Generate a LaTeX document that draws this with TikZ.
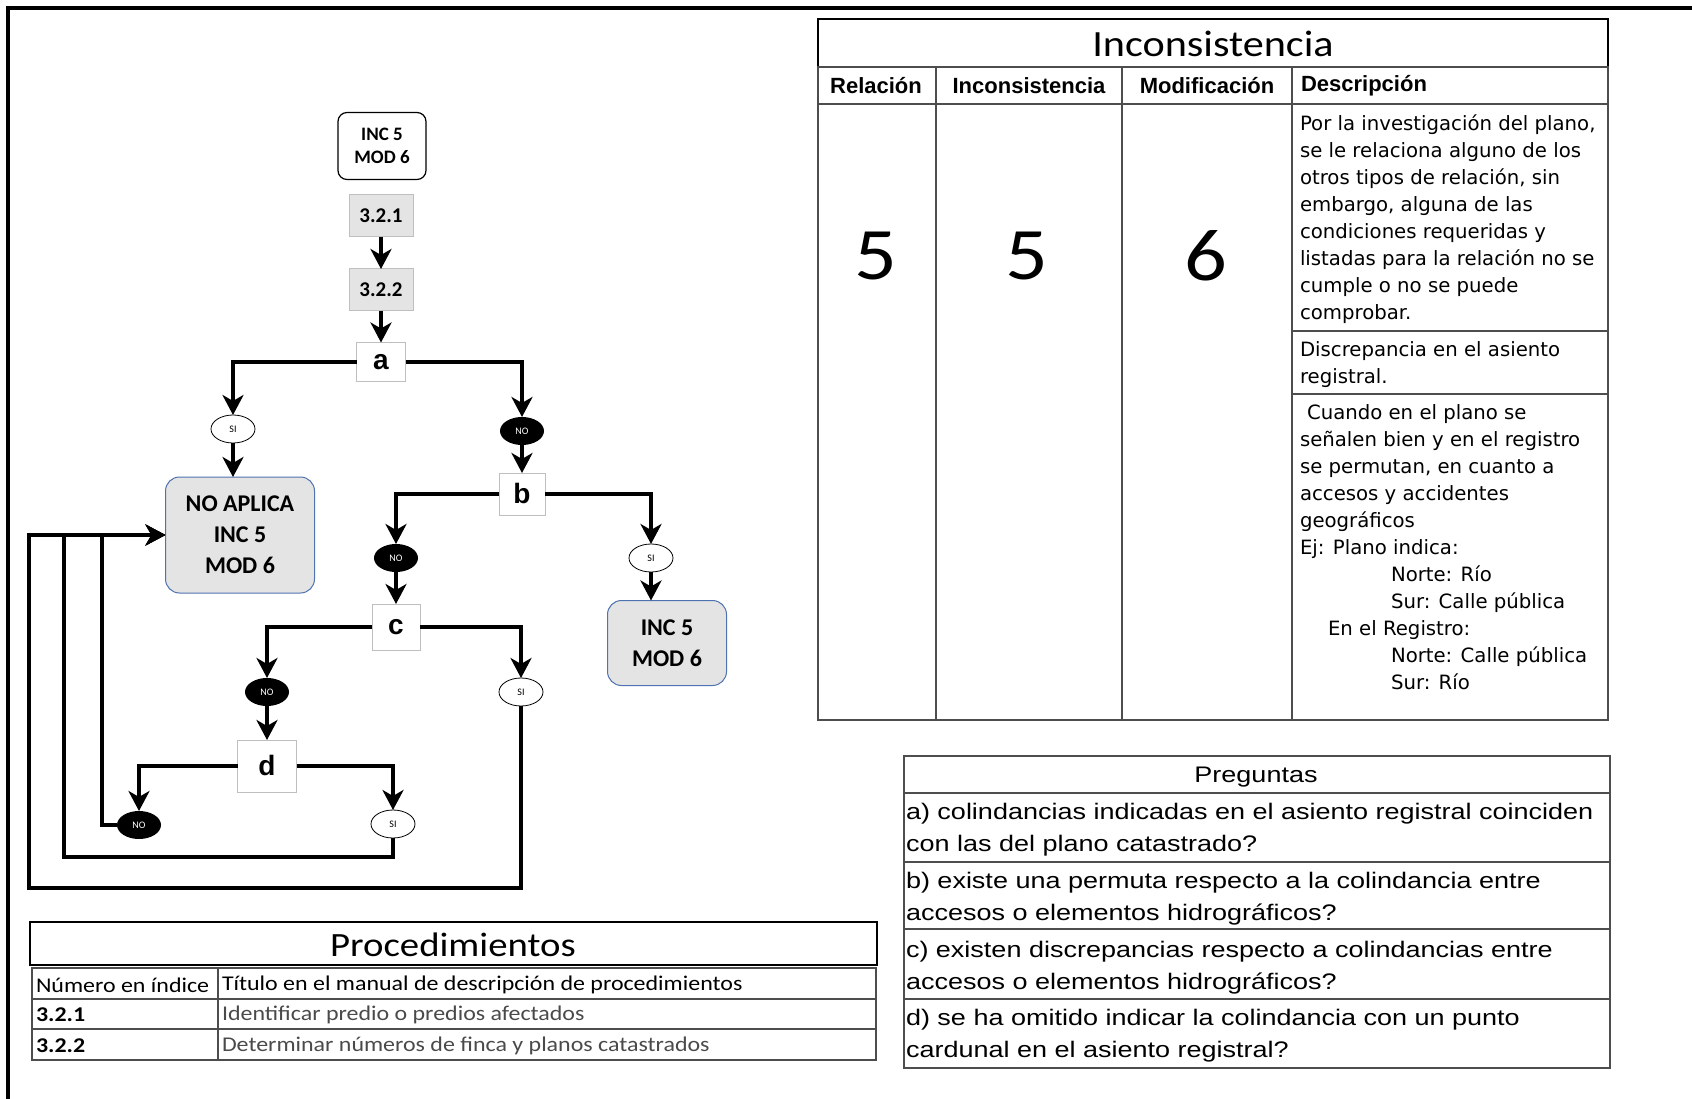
\documentclass[tikz,border=0pt]{standalone}
\usepackage{fontspec}
\setmainfont{Carlito}
\newfontfamily\calw[FakeStretch=1.14]{Carlito}
\newfontfamily\arialf{Liberation Sans}
\newfontfamily\arialw[FakeStretch=1.2]{Liberation Sans}
\newfontfamily\verd{DejaVu Sans}
\usetikzlibrary{positioning,calc,shapes.geometric,arrows.meta}
\definecolor{cajagris}{HTML}{E4E4E4}
\definecolor{bordegris}{HTML}{BFBFBF}
\definecolor{bordeazul}{HTML}{4F72B0}
\definecolor{lineatabla}{HTML}{4D4D4D}
\definecolor{textogris}{HTML}{4A4A4A}

\begin{document}
\begin{tikzpicture}[x=1pt, y=-1pt,
  every node/.style={inner sep=0pt, outer sep=0pt},
  flow/.style={line width=4pt, -{Stealth[length=20pt,width=21pt,inset=6pt]}},
  startbox/.style={draw, line width=1.2pt, rounded corners=9pt, fill=white, minimum width=88pt, minimum height=67pt, align=center, font=\bfseries\fontsize{19}{23}\selectfont},
  procbox/.style={draw=bordegris, line width=1pt, fill=cajagris, minimum width=64pt, minimum height=42pt, font=\bfseries\fontsize{21}{23}\selectfont},
  qbox/.style={draw=bordegris, line width=1pt, fill=white, text depth=1pt, font=\arialf\bfseries\fontsize{28}{30}\selectfont},
  endbox/.style={draw=bordeazul, line width=1pt, fill=cajagris, rounded corners=14pt, align=center, font=\bfseries\fontsize{24}{31}\selectfont},
  siovalo/.style={ellipse, draw, line width=0.8pt, fill=white, minimum width=44pt, minimum height=28pt, font=\fontsize{10}{11}\selectfont},
  noovalo/.style={ellipse, fill=black, text=white, minimum width=44pt, minimum height=28pt, font=\fontsize{10}{11}\selectfont},
  tabla/.style={draw=lineatabla, line width=1.5pt},
  encab/.style={font=\arialf\bfseries\fontsize{22}{24}\selectfont},
  descr/.style={anchor=north west, align=left, font=\verd\fontsize{19.7}{27}\selectfont},
  pregunta/.style={anchor=west, align=left, font=\arialw\fontsize{22.5}{32}\selectfont},
  proctexto/.style={anchor=west, font=\calw\fontsize{21}{23}\selectfont}]
\useasboundingbox (0,0) rectangle (1692,1099);
\draw[line width=4pt] (8,1099) -- (8,8) -- (1692,8);

\node[startbox] (inicio) at (382,146) {INC 5\\MOD 6};
\node[procbox] (p1) at (381,216) {3.2.1};
\node[procbox] (p2) at (381,290) {3.2.2};
\node[qbox, minimum width=49pt, minimum height=39pt] (a) at (381,362) {a};
\node[siovalo] (siA) at (233,429) {SI};
\node[endbox, minimum width=149pt, minimum height=116pt] (noaplica) at (240,535) {NO APLICA\\INC 5\\MOD 6};
\node[noovalo] (noA) at (522,431) {NO};
\node[qbox, minimum width=46pt, minimum height=42pt] (b) at (522,494) {b};
\node[siovalo] (siB) at (651,558) {SI};
\node[endbox, minimum width=119pt, minimum height=85pt] (inc) at (667,643) {INC 5\\MOD 6};
\node[noovalo] (noB) at (396,558) {NO};
\node[qbox, minimum width=48pt, minimum height=46pt] (c) at (396,627) {c};
\node[noovalo] (noC) at (267,692) {NO};
\node[siovalo] (siC) at (521,692) {SI};
\node[qbox, minimum width=59pt, minimum height=52pt] (d) at (267,766) {d};
\node[noovalo] (noD) at (139,825) {NO};
\node[siovalo] (siD) at (393,824) {SI};

\draw[flow] (p1) -- (p2);
\draw[flow] (p2) -- (a);
\draw[flow] (a.west) -| (siA.north);
\draw[flow] (siA.south) -- (siA.south |- noaplica.north);
\draw[flow] (a.east) -| (noA.north);
\draw[flow] (noA) -- (b);
\draw[flow] (b.east) -| (siB.north);
\draw[flow] (siB.south) -- (siB.south |- inc.north);
\draw[flow] (b.west) -| (noB.north);
\draw[flow] (noB) -- (c);
\draw[flow] (c.west) -| (noC.north);
\draw[flow] (noC) -- (d);
\draw[flow] (c.east) -| (siC.north);
\draw[flow] (d.west) -| (noD.north);
\draw[flow] (d.east) -| (siD.north);
\draw[flow] (noD.west) -- ++(-15,0) |- (noaplica.west);
\draw[flow] (siD.south) -- ++(0,19) -- ++(-329,0) |- (noaplica.west);
\draw[flow] (siC.south) -- ++(0,182) -- ++(-492,0) |- (noaplica.west);

\draw[line width=2pt] (818,19) rectangle (1608,67);
\node[font=\calw\fontsize{37}{40}\selectfont] (titinc) at (1213,44) {Inconsistencia};
\draw[tabla] (818,67) rectangle (1608,720);
\draw[tabla] (818,104) -- (1608,104);
\foreach \x in {936,1122,1292}
  \draw[tabla] (\x,67) -- (\x,720);
\draw[tabla] (1292,331) -- (1608,331) (1292,394) -- (1608,394);
\node[encab] (hrel) at (876,86) {Relación};
\node[encab] (hinc) at (1029,86) {Inconsistencia};
\node[encab] (hmod) at (1207,86) {Modificación};
\node[encab, anchor=west] (hdes) at (1301,86) {Descripción};
\node[font=\calw\fontsize{74}{74}\selectfont] (vrel) at (876,256) {5};
\node[font=\calw\fontsize{74}{74}\selectfont] (vinc) at (1027,256) {5};
\node[font=\calw\fontsize{74}{74}\selectfont] (vmod) at (1206,256) {6};
\node[descr] (des1) at (1300,115) {Por la investigación del plano,\\se le relaciona alguno de los\\otros tipos de relación, sin\\embargo, alguna de las\\condiciones requeridas y\\listadas para la relación no se\\cumple o no se puede\\comprobar.};
\node[descr] (des2) at (1300,342) {Discrepancia en el asiento\\registral.};
\node[descr] (des3) at (1300,405) {\hspace*{7pt}Cuando en el plano se\\señalen bien y en el registro\\se permutan, en cuanto a\\accesos y accidentes\\geográficos\\Ej: Plano indica:\\\hspace*{91pt}Norte: Río\\\hspace*{91pt}Sur: Calle pública\\\hspace*{28pt}En el Registro:\\\hspace*{91pt}Norte: Calle pública\\\hspace*{91pt}Sur: Río};

\draw[tabla, line width=2pt] (904,756) rectangle (1610,1068);
\foreach \y in {793,862,929,999}
  \draw[tabla, line width=2pt] (904,\y) -- (1610,\y);
\node[font=\arialw\fontsize{22.5}{24}\selectfont] (tpreg) at (1256,777) {Preguntas};
\node[pregunta] (pa) at (906,830) {a) colindancias indicadas en el asiento registral coinciden\\con las del plano catastrado?};
\node[pregunta] (pb) at (906,899) {b) existe una permuta respecto a la colindancia entre\\accesos o elementos hidrográficos?};
\node[pregunta] (pc) at (906,968) {c) existen discrepancias respecto a colindancias entre\\accesos o elementos hidrográficos?};
\node[pregunta] (pd) at (906,1036) {d) se ha omitido indicar la colindancia con un punto\\cardunal en el asiento registral?};

\draw[line width=1.5pt] (30,922) rectangle (877,965);
\node[font=\calw\fontsize{34}{36}\selectfont] (tproc) at (453,945) {Procedimientos};
\draw[tabla] (32,968) rectangle (876,1060);
\draw[tabla] (32,999) -- (876,999) (32,1029) -- (876,1029) (218,968) -- (218,1060);
\node[proctexto] (hnum) at (36,985) {Número en índice};
\node[proctexto] (htit) at (222,985) {Título en el manual de descripción de procedimientos};
\node[proctexto] (n1) at (36,1015) {\bfseries 3.2.1};
\node[proctexto, text=textogris] (t1) at (222,1015) {Identificar predio o predios afectados};
\node[proctexto] (n2) at (36,1046) {\bfseries 3.2.2};
\node[proctexto, text=textogris] (t2) at (222,1046) {Determinar números de finca y planos catastrados};
\end{tikzpicture}
\end{document}
